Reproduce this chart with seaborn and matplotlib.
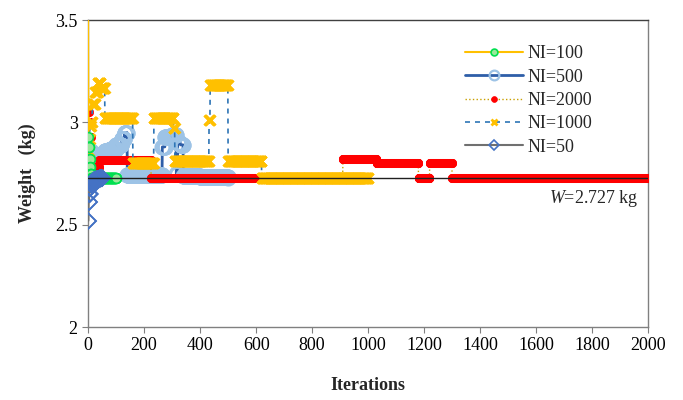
import numpy as np
import pandas as pd
import matplotlib
matplotlib.use("Agg")
import matplotlib.pyplot as plt
import seaborn as sns

# ---- data: best-so-far weight, given as (start iteration, value) change points ----
ni100_starts = [0, 1, 2, 4, 6, 8, 12]
ni100_values = [3.50, 2.93, 2.88, 2.82, 2.78, 2.75, 2.727]
ni100_end = 100

ni500_starts = [0, 10, 20, 40, 60, 80, 100, 120, 130, 140, 265, 275, 300, 315, 320, 330, 340, 400, 500]
ni500_values = [2.86, 2.84, 2.83, 2.84, 2.86, 2.87, 2.89, 2.92, 2.95, 2.745, 2.88, 2.93, 2.94, 2.75, 2.90, 2.89, 2.74, 2.735, 2.727]
ni500_end = 500

ni2000_starts = [0, 3, 6, 10, 40, 225, 910, 1030, 1180, 1220, 1300]
ni2000_values = [3.05, 3.00, 2.93, 2.78, 2.815, 2.73, 2.82, 2.80, 2.727, 2.80, 2.727]
ni2000_end = 2000

ni1000_starts = [0, 3, 6, 10, 15, 25, 35, 45, 60, 160, 235, 305, 310, 432, 436, 500, 620]
ni1000_values = [2.86, 2.92, 2.98, 3.00, 3.09, 3.15, 3.19, 3.17, 3.02, 2.80, 3.02, 2.97, 2.81, 3.01, 3.18, 2.81, 2.727]
ni1000_end = 1000

ni50_starts = [0, 2, 4, 6, 9, 14, 22, 32, 42]
ni50_values = [2.52, 2.61, 2.65, 2.68, 2.70, 2.71, 2.72, 2.725, 2.727]
ni50_end = 50

w_best = 2.727
x_ticks = [0, 200, 400, 600, 800, 1000, 1200, 1400, 1600, 1800, 2000]
y_ticks = [2, 2.5, 3, 3.5]


def expand(starts, values, end):
    starts = list(starts) + [end + 1]
    lengths = np.diff(starts)
    it = np.arange(end + 1)
    w = np.repeat(values, lengths)
    return pd.DataFrame({"Iterations": it, "Weight": w})


sns.set_style("white")
plt.rcParams["font.family"] = ["Liberation Serif", "DejaVu Serif"]
plt.rcParams["mathtext.fontset"] = "custom"
plt.rcParams["mathtext.rm"] = "Liberation Serif"
plt.rcParams["mathtext.it"] = "Liberation Serif:italic"

fig = plt.figure(figsize=(6.83, 4.0), dpi=100)
ax = fig.add_axes([0.129, 0.1825, 0.82, 0.7675])

d500 = expand(ni500_starts, ni500_values, ni500_end)
d2000 = expand(ni2000_starts, ni2000_values, ni2000_end)
d1000 = expand(ni1000_starts, ni1000_values, ni1000_end)
d100 = expand(ni100_starts, ni100_values, ni100_end)
d50 = expand(ni50_starts, ni50_values, ni50_end)

sns.lineplot(data=d500, x="Iterations", y="Weight", ax=ax, color="#2E5EA8", lw=2,
             marker="o", markersize=10, markerfacecolor="none",
             markeredgecolor="#9DC3E6", markeredgewidth=1.6, label="NI=500", zorder=2)
sns.lineplot(data=d2000, x="Iterations", y="Weight", ax=ax, color="#C9A000", lw=1,
             linestyle=":", marker="o", markersize=6, markerfacecolor="#FF0000",
             markeredgecolor="#FF0000", markeredgewidth=0.5, label="NI=2000", zorder=3)
sns.lineplot(data=d1000, x="Iterations", y="Weight", ax=ax, color="#2E75B6", lw=1.2,
             linestyle=(0, (3, 3)), marker="x", markersize=7, markeredgecolor="#FFC000",
             markeredgewidth=2, label="NI=1000", zorder=4)
sns.lineplot(data=d100, x="Iterations", y="Weight", ax=ax, color="#FFC000", lw=1.5,
             marker="o", markersize=7, markerfacecolor="#9BE89B",
             markeredgecolor="#00E050", markeredgewidth=1.2, markevery=slice(1, None),
             label="NI=100", zorder=5)
sns.lineplot(data=d50, x="Iterations", y="Weight", ax=ax, color="#707070", lw=1.5,
             marker="D", markersize=8, markerfacecolor="none",
             markeredgecolor="#4472C4", markeredgewidth=1.2, label="NI=50", zorder=6)

ax.axhline(w_best, color="#202020", lw=1.0, zorder=7)

ax.set_xlim(0, 2000)
ax.set_ylim(2, 3.5)
ax.set_xticks(x_ticks)
ax.set_yticks(y_ticks)
ax.set_yticklabels(["2", "2.5", "3", "3.5"])
ax.tick_params(axis="both", labelsize=13, direction="out", length=4, width=0.8,
               colors="#808080", labelcolor="black", bottom=True, left=True)
for s in ax.spines.values():
    s.set_color("#808080")
    s.set_linewidth(1.0)
ax.spines["top"].set_color("#404040")

ax.set_xlabel("Iterations", fontsize=13, fontweight="bold", labelpad=16)
ax.set_ylabel("Weight   (kg)", fontsize=13, fontweight="bold", labelpad=14)

ax.text(1965, 2.63, r"$W$=2.727 kg", ha="right", va="center", fontsize=13)

handles, labels = ax.get_legend_handles_labels()
order = ["NI=100", "NI=500", "NI=2000", "NI=1000", "NI=50"]
hmap = dict(zip(labels, handles))
ax.legend([hmap[k] for k in order], order, loc="upper right",
          bbox_to_anchor=(0.93, 0.97), frameon=False, fontsize=13,
          handlelength=3.2, labelspacing=0.35, handletextpad=0.3, markerscale=0.7)

fig.savefig("out.png", dpi=100)
